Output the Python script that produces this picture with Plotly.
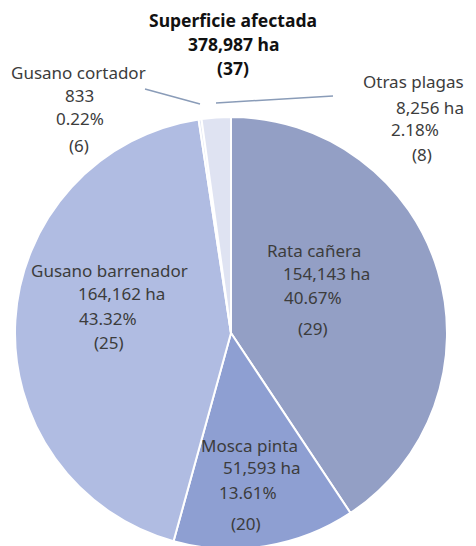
import plotly.graph_objects as go

# ---- data ----
categories = ["Rata cañera", "Mosca pinta", "Gusano barrenador", "Gusano cortador", "Otras plagas"]
hectares = [154143, 51593, 164162, 833, 8256]
hectare_labels = ["154,143 ha", "51,593 ha", "164,162 ha", "833", "8,256 ha"]
percent_labels = ["40.67%", "13.61%", "43.32%", "0.22%", "2.18%"]
counts = [29, 20, 25, 6, 8]
title_lines = ["Superficie afectada", "378,987 ha", "(37)"]

# ---- style ----
slice_colors = ["#939fc5", "#8e9fd2", "#b0bce2", "#e3e7f3", "#dfe3f2"]
W, H = 476, 549   # figure slightly taller than the 546 window: pie bottom is clipped as in the original
FONT = "Noto Sans"
TXT = "#3c3c3c"
CX, CY, R = 231, 333, 216

fig = go.Figure(go.Pie(
    labels=categories,
    values=hectares,
    sort=False,
    direction="clockwise",
    rotation=0,
    marker=dict(colors=slice_colors, line=dict(color="white", width=2)),
    textinfo="none",
    hoverinfo="label+value+percent",
    domain=dict(x=[(CX - R) / W, (CX + R) / W], y=[(H - CY - R) / H, (H - CY + R) / H]),
    showlegend=False,
))

# label line positions (pixel x of left edge, pixel y of centre) per category
label_layout = {
    "Rata cañera": [(266, 250), (282, 273), (283, 297), (297, 328)],
    "Mosca pinta": [(200, 445), (222, 468), (218, 492), (230, 523)],
    "Gusano barrenador": [(30, 270), (77, 293), (78, 318), (93, 342)],
    "Gusano cortador": [(10, 72), (64, 96), (55, 119), (68, 146)],
    "Otras plagas": [(362, 82), (395, 107), (390, 129), (411, 155)],
}

annotations = []
for i, cat in enumerate(categories):
    lines = [cat, hectare_labels[i], percent_labels[i], f"({counts[i]})"]
    for (px, py), txt in zip(label_layout[cat], lines):
        annotations.append(dict(
            x=px / W, y=1 - py / H, xref="paper", yref="paper",
            xanchor="left", yanchor="middle", text=txt, showarrow=False,
            borderpad=0,
            font=dict(family=FONT, size=17, color=TXT),
        ))

for j, (txt, py) in enumerate(zip(title_lines, [20, 44, 68])):
    annotations.append(dict(
        x=233 / W, y=1 - py / H, xref="paper", yref="paper",
        xanchor="center", yanchor="middle", text=f"<b>{txt}</b>", showarrow=False,
        font=dict(family=FONT, size=17.5, color="#111111"),
    ))

# leader lines
leaders = [((145, 89), (200, 104)), ((216, 103), (333, 96))]
shapes = []
for (x0, y0), (x1, y1) in leaders:
    shapes.append(dict(type="line", xref="paper", yref="paper",
                       x0=x0 / W, y0=1 - y0 / H, x1=x1 / W, y1=1 - y1 / H,
                       line=dict(color="#8a9cb8", width=1.5)))

fig.update_layout(
    width=W, height=H,
    margin=dict(l=0, r=0, t=0, b=0),
    paper_bgcolor="white",
    plot_bgcolor="white",
    annotations=annotations,
    shapes=shapes,
)

fig.write_html(
    "out.html",
    config={"displayModeBar": False},
    post_script="document.body.style.margin='0';document.body.style.overflow='hidden';",
)
